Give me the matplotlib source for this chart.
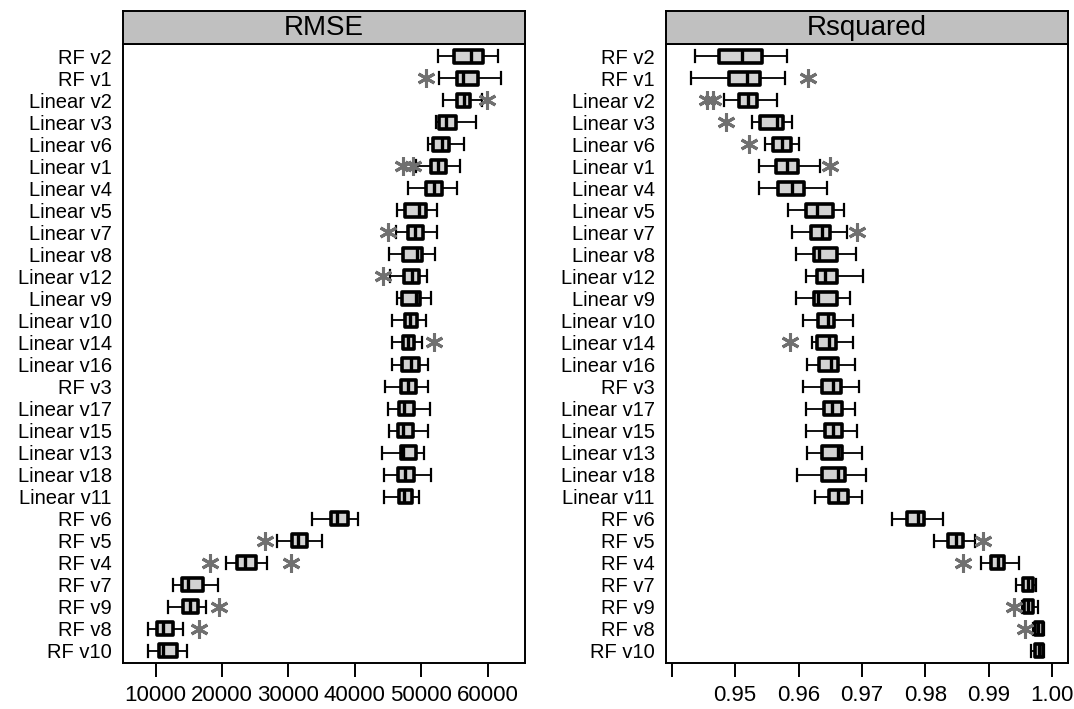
import matplotlib
matplotlib.use("Agg")
import matplotlib.pyplot as plt
from matplotlib.patches import Rectangle

plt.rcParams['font.family'] = ['Liberation Sans', 'DejaVu Sans']

models = ["RF v2", "RF v1", "Linear v2", "Linear v3", "Linear v6", "Linear v1",
          "Linear v4", "Linear v5", "Linear v7", "Linear v8", "Linear v12",
          "Linear v9", "Linear v10", "Linear v14", "Linear v16", "RF v3",
          "Linear v17", "Linear v15", "Linear v13", "Linear v18", "Linear v11",
          "RF v6", "RF v5", "RF v4", "RF v7", "RF v9", "RF v8", "RF v10"]

# RMSE: whisker low, q1, median, q3, whisker high
rmse_lo = [52500, 52700, 53300, 52200, 51000, 49200, 48000, 46300, 46200, 45100,
           45300, 46300, 45600, 45600, 45600, 44500, 45000, 45100, 44100, 44400,
           44400, 33500, 28300, 20600, 12600, 11850, 8850, 8850]
rmse_q1 = [54900, 55400, 55400, 52700, 51750, 51500, 50700, 47550, 48000, 47300,
           47400, 47100, 47550, 47300, 47100, 46950, 46650, 46500, 46950, 46500,
           46650, 36400, 30500, 22250, 13950, 14100, 10200, 10500]
rmse_med = [57500, 56300, 56400, 53700, 53100, 52500, 51900, 49650, 49050, 49400,
            48600, 49200, 48300, 48000, 48450, 48000, 47400, 47250, 47250, 47550,
            47400, 37300, 31450, 23450, 14850, 15150, 11100, 11100]
rmse_q3 = [59300, 58550, 57350, 55250, 54150, 53700, 53100, 50700, 50250, 50100,
           49650, 49800, 49350, 48900, 49650, 49200, 48900, 48750, 49200, 48900,
           48600, 38950, 32800, 25100, 17100, 16350, 12600, 13200]
rmse_hi = [61550, 62000, 59150, 58250, 56450, 55850, 55400, 52350, 52350, 52050,
           50850, 51450, 50700, 50100, 51000, 51000, 51300, 51000, 50400, 51450,
           49650, 40450, 35050, 26750, 19400, 17550, 14100, 14700]
rmse_out = {1: [50700], 2: [59900], 5: [47300, 48800], 8: [45000], 10: [44200],
            13: [51900], 22: [26450], 23: [18150, 30350], 25: [19550], 26: [16500]}

# Rsquared: whisker low, q1, median, q3, whisker high
rsq_lo = [0.9437, 0.9431, 0.9483, 0.9527, 0.9547, 0.9538, 0.9538, 0.9584, 0.9590, 0.9596,
          0.9612, 0.9596, 0.9607, 0.9621, 0.9613, 0.9607, 0.9612, 0.9612, 0.9613, 0.9598,
          0.9626, 0.9748, 0.9814, 0.9888, 0.9943, 0.9953, 0.9970, 0.9967]
rsq_q1 = [0.9475, 0.9490, 0.9506, 0.9539, 0.9560, 0.9565, 0.9568, 0.9612, 0.9620, 0.9625,
          0.9629, 0.9625, 0.9631, 0.9629, 0.9632, 0.9637, 0.9640, 0.9642, 0.9637, 0.9637,
          0.9648, 0.9771, 0.9836, 0.9904, 0.9954, 0.9956, 0.9973, 0.9973]
rsq_med = [0.9511, 0.9519, 0.9520, 0.9566, 0.9574, 0.9582, 0.9590, 0.9629, 0.9637, 0.9632,
           0.9642, 0.9631, 0.9647, 0.9648, 0.9651, 0.9654, 0.9653, 0.9654, 0.9662, 0.9662,
           0.9662, 0.9789, 0.9848, 0.9915, 0.9962, 0.9962, 0.9978, 0.9979]
rsq_q3 = [0.9543, 0.9539, 0.9535, 0.9576, 0.9588, 0.9599, 0.9609, 0.9654, 0.9650, 0.9661,
          0.9661, 0.9661, 0.9656, 0.9659, 0.9662, 0.9667, 0.9669, 0.9669, 0.9669, 0.9673,
          0.9678, 0.9798, 0.9860, 0.9924, 0.9970, 0.9970, 0.9986, 0.9986]
rsq_hi = [0.9582, 0.9579, 0.9566, 0.9590, 0.9601, 0.9634, 0.9645, 0.9672, 0.9677, 0.9691,
          0.9702, 0.9681, 0.9686, 0.9686, 0.9689, 0.9695, 0.9689, 0.9692, 0.9700, 0.9707,
          0.9700, 0.9828, 0.9878, 0.9948, 0.9975, 0.9978, 0.9987, 0.9987]
rsq_out = {1: [0.9615], 2: [0.9456, 0.9465], 3: [0.9486], 4: [0.9522], 5: [0.9650],
           8: [0.9692], 13: [0.9587], 22: [0.9891], 23: [0.9860], 25: [0.9940], 26: [0.9957]}

rmse_ticks = [10000, 20000, 30000, 40000, 50000, 60000]
rmse_labels = ["10000", "20000", "30000", "40000", "50000", "60000"]
rsq_ticks = [0.94, 0.95, 0.96, 0.97, 0.98, 0.99, 1.00]
rsq_labels = ["", "0.95", "0.96", "0.97", "0.98", "0.99", "1.00"]


def make_stats(lo, q1, med, q3, hi, out):
    stats = []
    for i in range(len(lo)):
        stats.append(dict(whislo=lo[i], q1=q1[i], med=med[i], q3=q3[i],
                          whishi=hi[i], fliers=out.get(i, [])))
    return stats


def draw_panel(fig, rect, title, stats, xlim, ticks, labels):
    ax = fig.add_axes(rect)
    n = len(stats)
    pos = list(range(n, 0, -1))
    ax.bxp(stats, positions=pos, orientation='horizontal', widths=0.6,
           capwidths=0.54, patch_artist=True, showfliers=True,
           boxprops=dict(facecolor='#d3d3d3', edgecolor='black', linewidth=2.6,
                         joinstyle='round'),
           medianprops=dict(color='black', linewidth=2.4, solid_capstyle='butt'),
           whiskerprops=dict(color='black', linewidth=1.3),
           capprops=dict(color='black', linewidth=1.6),
           flierprops=dict(marker=(6, 2, 0), markersize=13, markeredgewidth=2.2,
                           markeredgecolor='#707070', linestyle='none'))
    ax.set_xlim(*xlim)
    ax.set_ylim(0.45, n + 0.55)
    ax.set_yticks(pos)
    ax.set_yticklabels(models, fontsize=14.5)
    ax.tick_params(axis='y', length=0, pad=8)
    ax.set_xticks(ticks)
    ax.set_xticklabels(labels, fontsize=16)
    ax.tick_params(axis='x', length=10, width=1.4, pad=6)
    for s in ax.spines.values():
        s.set_linewidth(1.4)

    sax = fig.add_axes([rect[0], rect[1] + rect[3], rect[2], 33 / 709])
    sax.add_patch(Rectangle((0, 0), 1, 1, facecolor='#c0c0c0', edgecolor='none'))
    sax.set_xlim(0, 1)
    sax.set_ylim(0, 1)
    sax.set_xticks([])
    sax.set_yticks([])
    for s in sax.spines.values():
        s.set_linewidth(1.4)
    sax.text(0.5, 0.47, title, ha='center', va='center', fontsize=20)
    return ax


fig = plt.figure(figsize=(10.74, 7.09), dpi=100)
draw_panel(fig, [123 / 1074, 46 / 709, 402 / 1074, 619 / 709], "RMSE",
           make_stats(rmse_lo, rmse_q1, rmse_med, rmse_q3, rmse_hi, rmse_out),
           (5075, 65620), rmse_ticks, rmse_labels)
draw_panel(fig, [666 / 1074, 46 / 709, 402 / 1074, 619 / 709], "Rsquared",
           make_stats(rsq_lo, rsq_q1, rsq_med, rsq_q3, rsq_hi, rsq_out),
           (0.9391, 1.0025), rsq_ticks, rsq_labels)

fig.savefig("out.png", dpi=100)
